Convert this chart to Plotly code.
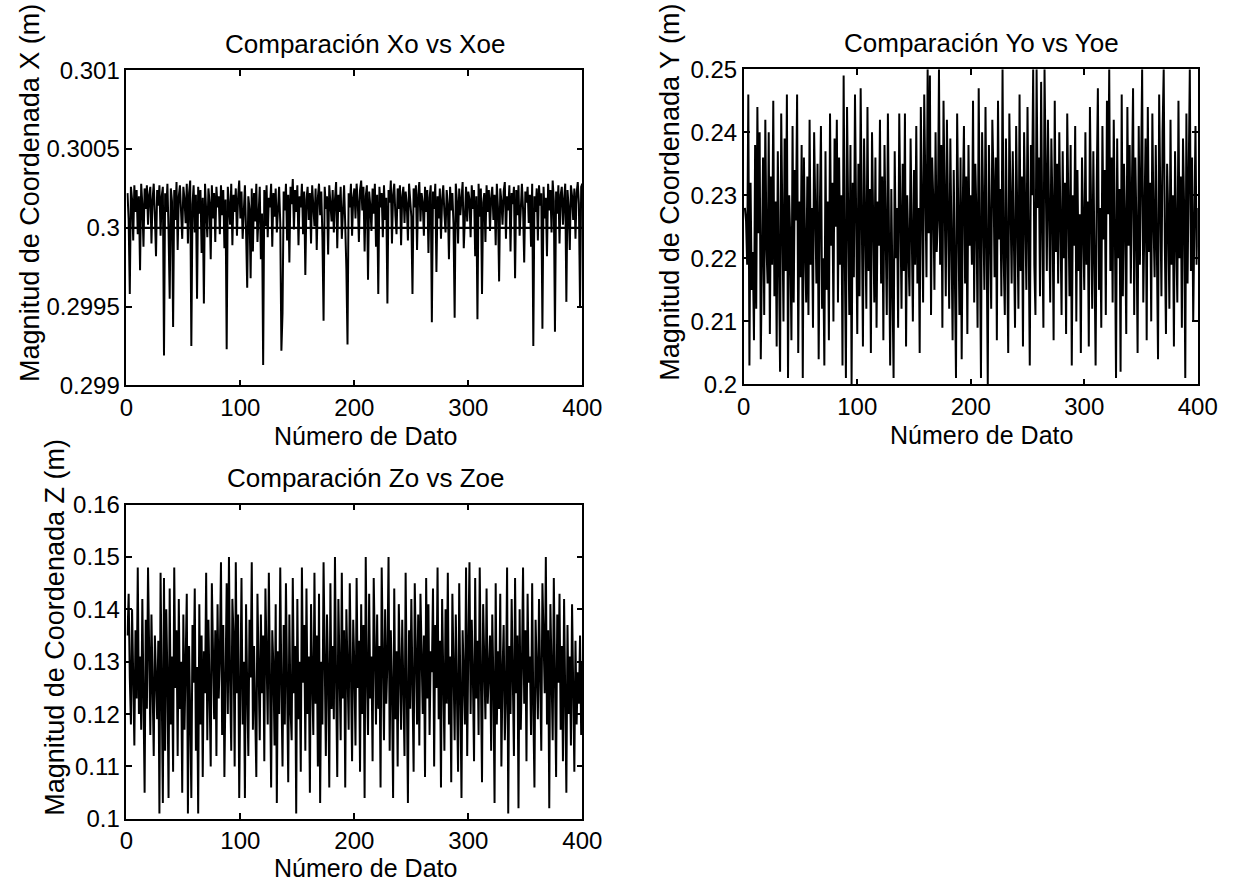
import plotly.graph_objects as go

# ---------------- data ----------------
titles = ["Comparación Xo vs Xoe", "Comparación Yo vs Yoe", "Comparación Zo vs Zoe"]
x_label = "Número de Dato"
y_labels = ["Magnitud de Coordenada X (m)", "Magnitud de Coordenada Y (m)", "Magnitud de Coordenada Z (m)"]

x_ticks = [0, 100, 200, 300, 400]
x_tick_labels = ["0", "100", "200", "300", "400"]
yx_ticks = [0.299, 0.2995, 0.3, 0.3005, 0.301]
yx_tick_labels = ["0.299", "0.2995", "0.3", "0.3005", "0.301"]
yy_ticks = [0.20, 0.21, 0.22, 0.23, 0.24, 0.25]
yy_tick_labels = ["0.2", "0.21", "0.22", "0.23", "0.24", "0.25"]
yz_ticks = [0.10, 0.11, 0.12, 0.13, 0.14, 0.15, 0.16]
yz_tick_labels = ["0.1", "0.11", "0.12", "0.13", "0.14", "0.15", "0.16"]

xo_reference_m = 0.3  # the flat Xo line

# Xoe in millimetres
xoe_mm = [
    300.22, 300.05, 299.58, 300.26, 300.18, 299.92, 300.27, 300.10, 300.24, 299.96, 300.20, 299.73, 300.28, 300.15, 299.88, 300.25, 300.12, 300.27, 300.02, 300.21,
    300.26, 299.90, 300.18, 300.28, 300.08, 299.82, 300.24, 300.14, 300.27, 299.95, 300.20, 300.26, 299.19, 300.22, 300.10, 300.28, 299.98, 299.55, 300.25, 300.17,
    299.37, 300.24, 300.05, 300.29, 299.86, 300.20, 300.27, 300.12, 299.93, 300.26, 300.18, 300.03, 300.28, 299.90, 300.22, 300.30, 299.25, 300.15, 300.27, 299.97,
    300.21, 299.55, 300.26, 300.09, 300.24, 299.84, 300.19, 299.52, 300.28, 300.11, 299.94, 300.25, 300.16, 299.80, 300.27, 300.06, 300.22, 299.91, 300.26, 300.13,
    300.20, 299.96, 300.27, 300.08, 300.24, 299.87, 300.18, 299.23, 300.26, 300.14, 300.02, 300.28, 299.89, 300.21, 300.10, 300.25, 299.95, 300.19, 300.30, 300.06,
    300.23, 299.93, 300.16, 300.27, 299.98, 299.62, 300.20, 300.12, 299.68, 300.25, 299.85, 300.22, 300.04, 300.28, 299.91, 300.17, 300.26, 299.80, 300.09, 299.13,
    300.24, 300.01, 300.27, 299.94, 300.19, 300.13, 300.28, 299.88, 300.22, 300.07, 300.25, 299.97, 300.18, 300.26, 300.03, 299.22, 299.46, 300.23, 300.11, 300.28,
    299.92, 300.21, 299.78, 300.26, 300.15, 300.31, 299.99, 300.24, 300.10, 300.27, 299.89, 300.20, 300.13, 300.28, 299.96, 300.23, 299.70, 300.18, 300.26, 300.05,
    300.22, 299.90, 300.27, 300.14, 300.01, 300.25, 299.86, 300.19, 300.28, 300.08, 300.23, 299.94, 299.41, 300.26, 300.12, 300.20, 299.83, 300.27, 300.16, 300.04,
    300.24, 299.97, 300.18, 300.29, 299.87, 300.21, 300.10, 300.26, 299.93, 300.15, 300.27, 300.02, 299.74, 299.26, 300.22, 300.13, 300.28, 299.95, 300.19, 300.25,
    300.06, 300.28, 300.17, 299.91, 300.24, 300.30, 300.11, 300.26, 299.85, 300.20, 300.27, 299.67, 300.23, 300.14, 299.98, 300.25, 300.09, 300.28, 299.88, 300.21,
    299.58, 300.26, 300.13, 300.22, 299.94, 300.27, 300.05, 300.19, 299.52, 300.24, 300.16, 300.30, 299.90, 300.21, 300.28, 300.08, 299.96, 300.25, 300.12, 300.27,
    299.89, 300.20, 300.26, 300.03, 300.23, 300.15, 299.92, 300.28, 300.18, 300.07, 299.58, 300.25, 300.13, 300.27, 299.86, 300.21, 300.29, 300.04, 300.22, 300.16,
    299.95, 300.26, 300.10, 300.24, 299.84, 300.19, 300.27, 299.40, 300.23, 300.12, 300.28, 299.72, 300.20, 300.06, 300.25, 299.93, 300.18, 300.27, 300.09, 299.97,
    300.24, 300.15, 299.80, 300.26, 300.11, 300.22, 300.02, 299.43, 300.28, 300.17, 299.90, 300.25, 300.08, 300.21, 300.29, 299.87, 300.14, 300.26, 300.04, 300.23,
    300.18, 299.94, 300.27, 300.12, 300.24, 299.82, 300.20, 299.42, 300.28, 300.07, 300.25, 299.58, 300.16, 300.22, 299.91, 300.27, 300.10, 300.24, 299.98, 300.19,
    300.26, 300.05, 300.21, 299.89, 300.28, 300.13, 299.66, 300.25, 300.17, 300.02, 300.23, 300.29, 299.93, 300.20, 300.11, 300.27, 299.85, 300.22, 300.15, 300.26,
    299.68, 300.24, 300.08, 300.27, 299.95, 300.19, 300.28, 300.12, 299.78, 300.23, 300.16, 300.26, 300.03, 300.21, 299.88, 300.28, 299.25, 300.20, 300.10, 300.25,
    299.92, 300.27, 300.14, 300.22, 299.36, 300.26, 300.06, 300.19, 299.82, 300.28, 300.11, 300.24, 299.97, 300.30, 300.17, 299.34, 300.23, 300.09, 300.27, 299.90,
    300.21, 300.26, 300.02, 300.18, 300.28, 299.53, 300.24, 300.13, 299.86, 300.27, 300.20, 300.05, 300.25, 299.93, 300.22, 300.29, 300.15, 299.50, 300.26, 300.28,
]

# Yoe in millimetres
yoe_mm = [
    228, 226, 219, 246, 203, 232, 215, 221, 207, 238, 212, 244, 224, 240, 204, 227, 236, 211, 242, 222,
    216, 240, 208, 233, 219, 245, 214, 229, 206, 237, 221, 202, 243, 225, 210, 239, 218, 246, 201, 230,
    223, 207, 241, 213, 234, 226, 246, 205, 229, 217, 238, 201, 236, 222, 213, 233, 211, 242, 219, 228,
    209, 240, 224, 216, 235, 204, 227, 241, 212, 220, 203, 237, 215, 229, 207, 243, 222, 232, 210, 239,
    225, 242, 213, 236, 219, 230, 203, 249, 221, 201, 244, 227, 211, 238, 200, 232, 217, 246, 223, 208,
    235, 214, 247, 220, 206, 239, 228, 212, 244, 218, 231, 205, 240, 224, 213, 236, 209, 229, 222, 242,
    216, 233, 207, 238, 221, 211, 243, 226, 203, 231, 215, 201, 237, 220, 228, 209, 243, 224, 212, 235,
    218, 243, 206, 230, 223, 214, 239, 227, 210, 234, 219, 241, 216, 228, 205, 244, 222, 213, 246, 231,
    217, 250, 224, 249, 211, 236, 229, 215, 240, 221, 226, 250, 219, 238, 209, 245, 232, 214, 242, 225,
    212, 239, 221, 207, 234, 217, 201, 243, 223, 211, 236, 204, 229, 241, 216, 233, 208, 238, 222, 230,
    219, 245, 213, 235, 227, 209, 247, 224, 201, 240, 230, 215, 244, 221, 200, 238, 226, 212, 242, 233,
    217, 236, 207, 245, 223, 231, 214, 250, 220, 211, 239, 226, 205, 243, 229, 216, 237, 222, 209, 241,
    224, 212, 246, 218, 233, 206, 240, 227, 215, 244, 221, 203, 238, 230, 250, 219, 211, 250, 228, 236,
    214, 248, 225, 209, 250, 231, 218, 242, 223, 213, 239, 228, 207, 245, 221, 235, 216, 240, 226, 211,
    237, 220, 232, 208, 243, 225, 214, 238, 203, 230, 222, 241, 210, 234, 218, 227, 205, 236, 224, 215,
    240, 219, 229, 206, 244, 226, 212, 237, 221, 203, 232, 247, 215, 228, 209, 241, 223, 234, 211, 245,
    227, 250, 218, 236, 213, 242, 224, 201, 239, 220, 231, 202, 246, 214, 235, 226, 208, 244, 222, 238,
    216, 229, 247, 211, 236, 225, 205, 241, 219, 233, 250, 213, 228, 239, 207, 244, 221, 232, 210, 243,
    226, 217, 238, 223, 204, 246, 231, 214, 240, 250, 222, 208, 235, 227, 212, 242, 219, 230, 206, 237,
    224, 213, 245, 220, 233, 209, 239, 228, 201, 243, 216, 231, 250, 218, 236, 210, 227, 241, 219, 228,
]

# Zoe in millimetres
zoe_mm = [
    135, 143, 127, 118, 140, 129, 114, 136, 123, 148, 120, 131, 117, 142, 126, 105, 138, 121, 148, 133,
    116, 139, 124, 112, 135, 128, 119, 134, 101, 147, 122, 103, 146, 113, 140, 127, 104, 144, 118, 131,
    109, 148, 125, 136, 112, 142, 121, 130, 105, 139, 117, 128, 143, 101, 133, 120, 104, 137, 126, 144,
    113, 129, 101, 141, 118, 135, 108, 132, 124, 147, 115, 138, 122, 110, 145, 127, 119, 136, 112, 141,
    123, 131, 149, 116, 137, 108, 128, 145, 120, 150, 126, 113, 142, 135, 110, 149, 124, 139, 104, 133,
    146, 118, 130, 104, 141, 125, 112, 138, 127, 149, 117, 133, 121, 108, 143, 129, 115, 139, 124, 135,
    111, 144, 126, 118, 147, 122, 106, 136, 129, 114, 141, 103, 132, 120, 148, 125, 110, 137, 118, 145,
    128, 107, 139, 121, 115, 146, 124, 133, 101, 142, 119, 130, 109, 148, 126, 137, 113, 144, 120, 131,
    105, 141, 127, 116, 147, 122, 135, 110, 143, 103, 130, 118, 149, 124, 112, 139, 128, 106, 145, 121,
    133, 119, 150, 126, 108, 142, 131, 115, 147, 123, 136, 106, 140, 127, 117, 145, 122, 111, 138, 129,
    114, 146, 125, 134, 109, 141, 120, 137, 104, 150, 128, 116, 143, 123, 131, 111, 146, 126, 118, 139,
    121, 133, 106, 148, 127, 115, 140, 122, 130, 150, 113, 136, 125, 104, 144, 119, 132, 110, 141, 128,
    117, 138, 124, 112, 147, 129, 103, 136, 121, 142, 126, 109, 145, 131, 118, 139, 114, 143, 127, 120,
    135, 108, 146, 123, 141, 116, 132, 128, 144, 110, 137, 125, 148, 119, 134, 106, 142, 127, 113, 140,
    122, 147, 118, 131, 107, 143, 126, 115, 139, 121, 109, 145, 128, 104, 136, 124, 118, 148, 112, 133,
    149, 120, 138, 127, 111, 146, 123, 134, 116, 148, 125, 107, 141, 130, 119, 144, 122, 128, 135, 113,
    139, 126, 103, 145, 118, 132, 121, 143, 110, 128, 137, 115, 124, 148, 101, 133, 120, 142, 127, 112,
    146, 124, 135, 102, 140, 117, 129, 148, 122, 136, 111, 143, 126, 131, 116, 145, 121, 106, 138, 128,
    119, 142, 127, 113, 145, 132, 124, 150, 118, 136, 102, 141, 129, 115, 146, 123, 108, 139, 126, 143,
    117, 133, 111, 142, 124, 105, 137, 120, 131, 114, 141, 126, 109, 134, 118, 128, 122, 135, 116, 130,
]

sample_numbers = list(range(1, len(xoe_mm) + 1))

# ---------------- figure ----------------
W, H = 1252, 890
FONT = "Liberation Sans, Arial, sans-serif"

def px_x(p):
    return p / W

def px_y(p):
    return 1 - p / H

# plot boxes in pixels: (left, right, top, bottom)
boxes = [(122, 588, 58, 383), (753, 1217, 57, 382), (122, 588, 506, 830)]

fig = go.Figure()
line_style = dict(color="black", width=2)

fig.add_trace(go.Scatter(x=sample_numbers, y=[v / 1000 for v in xoe_mm], mode="lines",
                         line=line_style, xaxis="x", yaxis="y", name="Xoe"))
fig.add_trace(go.Scatter(x=sample_numbers, y=[xo_reference_m] * len(sample_numbers), mode="lines",
                         line=dict(color="black", width=2.2), xaxis="x", yaxis="y", name="Xo"))
fig.add_trace(go.Scatter(x=sample_numbers, y=[v / 1000 for v in yoe_mm], mode="lines",
                         line=line_style, xaxis="x2", yaxis="y2", name="Yoe"))
fig.add_trace(go.Scatter(x=sample_numbers, y=[v / 1000 for v in zoe_mm], mode="lines",
                         line=line_style, xaxis="x3", yaxis="y3", name="Zoe"))

tick_font = dict(family=FONT, size=24, color="black")
common_axis = dict(showline=True, linecolor="black", linewidth=1.5, mirror="ticks",
                   ticks="inside", ticklen=6, tickcolor="black", tickwidth=1.5,
                   showgrid=False, zeroline=False, tickfont=tick_font)

yranges = [(0.299, 0.301), (0.20, 0.25), (0.10, 0.16)]
yticks = [(yx_ticks, yx_tick_labels), (yy_ticks, yy_tick_labels), (yz_ticks, yz_tick_labels)]

layout_axes = {}
for i, (l, r, t, b) in enumerate(boxes):
    suffix = "" if i == 0 else str(i + 1)
    layout_axes["xaxis" + suffix] = dict(common_axis, domain=[px_x(l), px_x(r)], range=[0, 400],
                                         anchor="y" + suffix, tickvals=x_ticks, ticktext=x_tick_labels)
    layout_axes["yaxis" + suffix] = dict(common_axis, domain=[px_y(b), px_y(t)], range=list(yranges[i]),
                                         anchor="x" + suffix, tickvals=yticks[i][0], ticktext=yticks[i][1])

fig.update_layout(**layout_axes)

annotations = []
ytitle_x = [24, 678, 49]
ytitle_yc = [184, 184, 632]
xtitle_off = [52, 52, 51]
for i, (l, r, t, b) in enumerate(boxes):
    cx = (l + r) / 2 + 11
    annotations.append(dict(text=titles[i], x=px_x(cx), y=px_y(t - 27), xref="paper", yref="paper",
                            showarrow=False, xanchor="center", yanchor="middle",
                            font=dict(family=FONT, size=26, color="black")))
    annotations.append(dict(text=x_label, x=px_x(cx), y=px_y(b + xtitle_off[i]), xref="paper", yref="paper",
                            showarrow=False, xanchor="center", yanchor="middle",
                            font=dict(family=FONT, size=25, color="black")))
    annotations.append(dict(text=y_labels[i], x=px_x(ytitle_x[i]), y=px_y(ytitle_yc[i]), xref="paper",
                            yref="paper", showarrow=False, textangle=-90, xanchor="center",
                            yanchor="middle", font=dict(family=FONT, size=27, color="black")))

fig.update_layout(width=W, height=H, margin=dict(l=0, r=0, t=0, b=0),
                  paper_bgcolor="white", plot_bgcolor="white", showlegend=False,
                  annotations=annotations)

fig.write_html("out.html")
